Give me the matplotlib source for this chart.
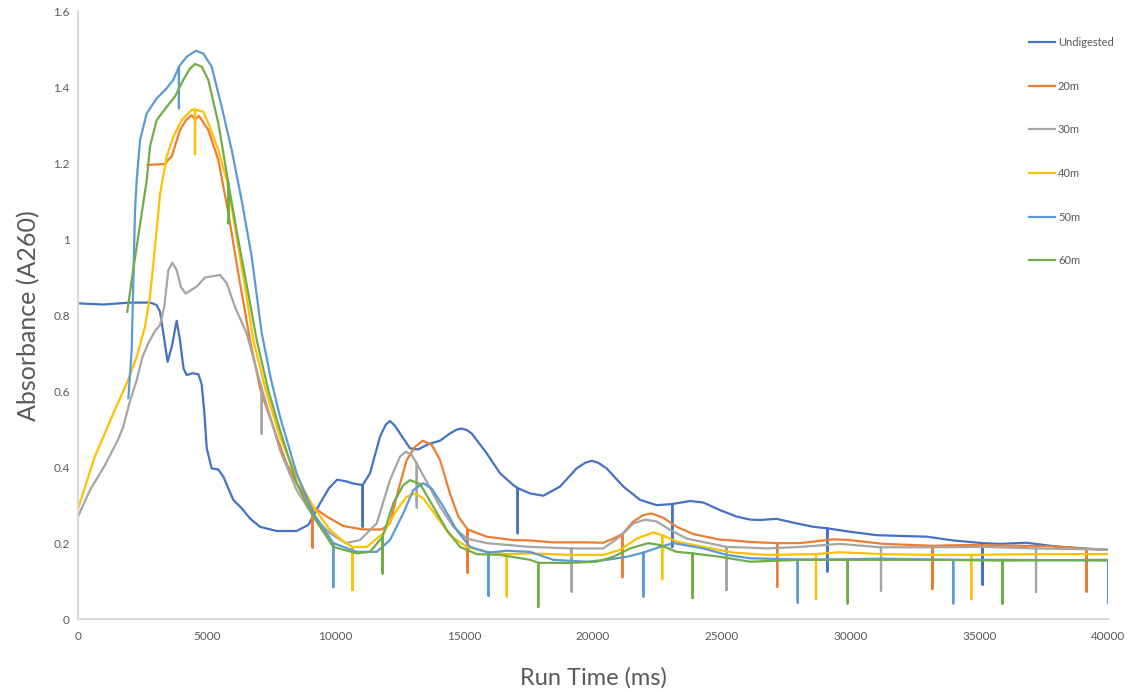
import matplotlib
matplotlib.use("Agg")
import matplotlib.pyplot as plt

# Run time (ms) and absorbance readings per sample.
# Repeated times mark the fraction ticks (the short vertical drops).
undigested_t = [0, 1000, 2000, 2800, 3050, 3185, 3300, 3480, 3650, 3830, 3950, 4100, 4220, 4450,
                4675, 4800, 4900, 5000, 5190, 5450, 5645, 6030, 6355, 6680, 7070, 7715, 8490,
                8945, 9400, 9750, 10060, 10400, 10700, 11055, 11055, 11055, 11340, 11730, 11950,
                12115, 12300, 12505, 12895, 13215, 13605, 14060, 14445, 14700, 14900, 15100,
                15290, 15870, 16390, 16905, 17075, 17075, 17075, 17555, 18070, 18720, 19365,
                19700, 19950, 20200, 20530, 21180, 21825, 22475, 23080, 23080, 23080, 23765,
                24285, 24930, 25580, 26100, 26485, 27130, 27910, 28555, 29100, 29100, 29100,
                29980, 31015, 31920, 32960, 33990, 35130, 35130, 35130, 35805, 36840, 37875,
                39040, 40000]
undigested_v = [0.832, 0.829, 0.834, 0.834, 0.828, 0.81, 0.76, 0.678, 0.72, 0.786, 0.74, 0.66,
                0.643, 0.648, 0.645, 0.62, 0.55, 0.45, 0.397, 0.394, 0.375, 0.314, 0.292, 0.265,
                0.243, 0.232, 0.232, 0.248, 0.305, 0.345, 0.367, 0.363, 0.357, 0.353, 0.243,
                0.353, 0.384, 0.481, 0.512, 0.522, 0.51, 0.489, 0.45, 0.447, 0.461, 0.47, 0.489,
                0.499, 0.502, 0.498, 0.489, 0.437, 0.384, 0.353, 0.345, 0.226, 0.345, 0.331,
                0.325, 0.349, 0.397, 0.412, 0.417, 0.412, 0.397, 0.349, 0.314, 0.30, 0.303, 0.19,
                0.303, 0.311, 0.307, 0.287, 0.27, 0.262, 0.261, 0.264, 0.252, 0.243, 0.239,
                0.125, 0.239, 0.23, 0.221, 0.219, 0.217, 0.207, 0.2, 0.09, 0.2, 0.198, 0.201,
                0.192, 0.186, 0.182]

m20_t = [2705, 3380, 3500, 3640, 3960, 4200, 4415, 4545, 4700, 5060, 5450, 5840, 6225, 6680,
         7100, 7715, 8100, 8490, 9110, 9110, 9110, 9660, 10305, 11080, 11795, 12115, 12440,
         12765, 13090, 13385, 13735, 14060, 14445, 14770, 15130, 15130, 15130, 15870, 16905,
         17555, 18460, 19755, 20400, 20790, 21140, 21140, 21140, 21565, 21955, 22280, 22730,
         23250, 23895, 24930, 25450, 26100, 27155, 27155, 27155, 28040, 29330, 29980, 31275,
         33180, 33180, 33180, 34500, 36440, 37745, 39170, 39170, 39170, 40000]
m20_v = [1.197, 1.199, 1.21, 1.219, 1.289, 1.315, 1.328, 1.317, 1.326, 1.289, 1.21, 1.069,
         0.911, 0.735, 0.6, 0.481, 0.41, 0.358, 0.296, 0.188, 0.296, 0.27, 0.245, 0.236, 0.236,
         0.252, 0.34, 0.419, 0.454, 0.47, 0.459, 0.419, 0.331, 0.27, 0.236, 0.122, 0.236,
         0.217, 0.208, 0.207, 0.202, 0.202, 0.201, 0.212, 0.224, 0.11, 0.224, 0.257, 0.274,
         0.278, 0.267, 0.243, 0.224, 0.209, 0.207, 0.203, 0.2, 0.085, 0.2, 0.2, 0.21, 0.208,
         0.198, 0.193, 0.079, 0.193, 0.195, 0.193, 0.192, 0.185, 0.072, 0.185, 0.182]

m30_t = [0, 466, 1050, 1550, 1760, 2000, 2280, 2500, 2730, 3000, 3185, 3350, 3510, 3665, 3830,
         4000, 4180, 4605, 4930, 5515, 5775, 6095, 6550, 7135, 7135, 7135, 7845, 8490, 9140,
         9785, 10400, 10950, 11600, 12115, 12505, 12725, 12960, 13155, 13155, 13155, 13540,
         14060, 14575, 15095, 15870, 17555, 19170, 19170, 19170, 20400, 21050, 21565, 22020,
         22475, 22990, 23640, 24415, 25190, 25190, 25190, 26100, 26740, 28040, 29590, 31185,
         31185, 31185, 33220, 35160, 37205, 37205, 37205, 40000]
m30_v = [0.27, 0.34, 0.406, 0.472, 0.507, 0.57, 0.63, 0.69, 0.727, 0.76, 0.775, 0.823, 0.92,
         0.939, 0.92, 0.875, 0.858, 0.876, 0.9, 0.907, 0.885, 0.823, 0.753, 0.608, 0.489,
         0.608, 0.445, 0.34, 0.27, 0.226, 0.2, 0.208, 0.252, 0.366, 0.428, 0.441, 0.432, 0.41,
         0.294, 0.41, 0.362, 0.296, 0.243, 0.212, 0.2, 0.19, 0.186, 0.072, 0.186, 0.186, 0.217,
         0.252, 0.262, 0.257, 0.235, 0.212, 0.201, 0.19, 0.076, 0.19, 0.188, 0.186, 0.19,
         0.198, 0.189, 0.075, 0.189, 0.189, 0.19, 0.186, 0.072, 0.186, 0.183]

m40_t = [0, 330, 660, 985, 1370, 1890, 2280, 2600, 2795, 2925, 3055, 3185, 3445, 3700, 4025,
         4415, 4545, 4545, 4545, 4870, 5060, 5450, 5775, 6095, 6485, 6810, 7300, 7845, 8490,
         9140, 9785, 10300, 10655, 10655, 10655, 11210, 11860, 12375, 12765, 13090, 13410,
         13930, 14445, 15095, 15870, 16650, 16650, 16650, 17555, 19105, 20400, 21050, 21700,
         22345, 22690, 22690, 22690, 23250, 24285, 25450, 26740, 28660, 28660, 28660, 29590,
         31275, 33220, 34690, 34690, 34690, 37100, 40000]
m40_v = [0.29, 0.36, 0.43, 0.48, 0.542, 0.621, 0.691, 0.77, 0.85, 0.937, 1.025, 1.12, 1.219,
         1.271, 1.315, 1.342, 1.343, 1.225, 1.343, 1.337, 1.307, 1.236, 1.157, 1.034, 0.876,
         0.735, 0.6, 0.48, 0.375, 0.296, 0.235, 0.205, 0.19, 0.076, 0.19, 0.19, 0.226, 0.287,
         0.322, 0.331, 0.318, 0.27, 0.221, 0.19, 0.177, 0.171, 0.059, 0.171, 0.173, 0.169,
         0.169, 0.182, 0.212, 0.228, 0.221, 0.105, 0.221, 0.204, 0.19, 0.175, 0.169, 0.171,
         0.053, 0.171, 0.176, 0.171, 0.169, 0.169, 0.052, 0.169, 0.171, 0.171]

m50_t = [1955, 2085, 2215, 2280, 2410, 2670, 3055, 3445, 3700, 3920, 3920, 3920, 4220, 4580,
         4870, 5190, 5580, 5970, 6355, 6745, 7135, 7500, 7845, 8490, 9140, 9915, 9915, 9915,
         10825, 11600, 12115, 12635, 13020, 13410, 13735, 14190, 14700, 15225, 15945, 15945,
         15945, 16650, 17555, 18460, 19755, 20530, 21310, 21955, 21955, 21955, 22600, 23120,
         24285, 25190, 26100, 27950, 27950, 27950, 29330, 31275, 33990, 33990, 33990, 36000,
         40000, 40000]
m50_v = [0.582, 0.709, 1.078, 1.157, 1.263, 1.333, 1.372, 1.399, 1.421, 1.456, 1.346, 1.456,
         1.482, 1.498, 1.49, 1.456, 1.35, 1.236, 1.104, 0.955, 0.753, 0.63, 0.533, 0.384,
         0.279, 0.2, 0.084, 0.2, 0.177, 0.177, 0.208, 0.279, 0.34, 0.358, 0.344, 0.296, 0.235,
         0.19, 0.175, 0.061, 0.175, 0.18, 0.177, 0.156, 0.151, 0.156, 0.164, 0.175, 0.059,
         0.175, 0.19, 0.2, 0.186, 0.169, 0.16, 0.157, 0.043, 0.157, 0.157, 0.159, 0.156,
         0.041, 0.156, 0.156, 0.154, 0.043]

m60_t = [1915, 2085, 2280, 2475, 2670, 2795, 3055, 3445, 3765, 4090, 4350, 4545, 4805, 5060,
         5450, 5775, 5840, 5840, 5840, 6225, 6615, 6940, 7400, 7845, 8490, 9140, 9915, 10825,
         11340, 11830, 11830, 11830, 12245, 12635, 12895, 13280, 13800, 14320, 14835, 15485,
         16390, 17555, 17875, 17875, 17875, 19105, 20140, 20790, 21440, 22150, 22600, 23250,
         23870, 23870, 23870, 24930, 26100, 28040, 29890, 29890, 29890, 31500, 33500, 35900,
         35900, 35900, 40000]
m60_v = [0.81, 0.894, 0.981, 1.069, 1.157, 1.245, 1.315, 1.35, 1.377, 1.421, 1.451, 1.463,
         1.456, 1.421, 1.307, 1.175, 1.148, 1.043, 1.148, 0.999, 0.858, 0.735, 0.6, 0.498,
         0.358, 0.27, 0.19, 0.173, 0.177, 0.217, 0.12, 0.217, 0.305, 0.353, 0.366, 0.356,
         0.296, 0.235, 0.19, 0.171, 0.169, 0.156, 0.148, 0.032, 0.148, 0.148, 0.151, 0.164,
         0.186, 0.2, 0.195, 0.177, 0.173, 0.055, 0.173, 0.164, 0.151, 0.156, 0.156, 0.041,
         0.156, 0.156, 0.156, 0.154, 0.04, 0.154, 0.156]

labels = ["Undigested", "20m", "30m", "40m", "50m", "60m"]
colors = ["#4472C4", "#ED7D31", "#A5A5A5", "#FFC000", "#5B9BD5", "#70AD47"]
series = [(undigested_t, undigested_v), (m20_t, m20_v), (m30_t, m30_v),
          (m40_t, m40_v), (m50_t, m50_v), (m60_t, m60_v)]

plt.rcParams['font.family'] = ['Lato', 'DejaVu Sans']

fig = plt.figure(figsize=(11.34, 6.92), dpi=100)
ax = fig.add_axes([78 / 1134, 1 - 619 / 692, 1030 / 1134, 607 / 692])

for (t, v), lab, col in zip(series, labels, colors):
    ax.plot(t, v, color=col, lw=1.6, label=lab)

ax.set_xlim(0, 40000)
ax.set_ylim(0, 1.6)
ax.set_xticks(range(0, 40001, 5000))
yt = [0, 0.2, 0.4, 0.6, 0.8, 1.0, 1.2, 1.4, 1.6]
ax.set_yticks(yt)
ax.set_yticklabels(["0", "0.2", "0.4", "0.6", "0.8", "1", "1.2", "1.4", "1.6"])
ax.tick_params(length=0, labelsize=8.5, labelcolor="#595959")
ax.tick_params(axis='x', pad=9)
ax.tick_params(axis='y', pad=6)

for s in ["top", "right"]:
    ax.spines[s].set_visible(False)
for s in ["left", "bottom"]:
    ax.spines[s].set_color("#D9D9D9")
    ax.spines[s].set_linewidth(1.5)

ax.set_xlabel("Run Time (ms)", fontsize=17, color="#595959")
ax.set_ylabel("Absorbance (A260)", fontsize=18, color="#595959")
ax.xaxis.set_label_coords(0.5, -0.08)
ax.yaxis.set_label_coords(-0.037, 0.5)

fig.legend(loc="upper left", bbox_to_anchor=(1029 / 1134, 1 - 37 / 692), frameon=False,
           fontsize=8, labelcolor="#595959", labelspacing=2.94, handlelength=2.3,
           handletextpad=0.3, borderpad=0, borderaxespad=0)

fig.savefig("out.png", dpi=100)
